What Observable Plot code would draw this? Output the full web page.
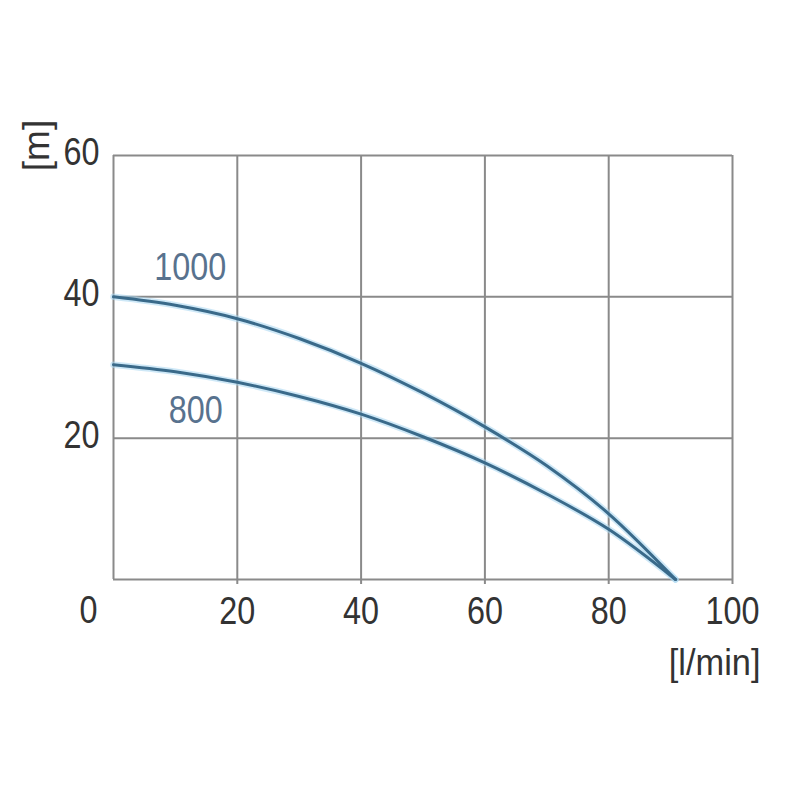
<!DOCTYPE html>
<html>
<head>
<meta charset="utf-8">
<script src="https://cdn.jsdelivr.net/npm/d3@7"></script>
<script src="https://cdn.jsdelivr.net/npm/@observablehq/plot@0.6"></script>
<style>
  html, body { margin: 0; padding: 0; background: #fff; }
</style>
</head>
<body>
<div id="chart"></div>
<script>
const flow = [0, 10, 20, 30, 40, 50, 60, 70, 80, 90.8];
const head1000 = [40, 38.8, 36.9, 34.1, 30.6, 26.4, 21.6, 16.1, 9.3, 0];
const head800 = [30.4, 29.4, 27.9, 25.9, 23.4, 20.2, 16.5, 12.1, 7.1, 0];
const xTicks = [20, 40, 60, 80, 100];
const yTicks = [20, 40, 60];
const gridX = [0, 20, 40, 60, 80, 100];
const gridY = [0, 20, 40, 60];
const curveNames = ["1000", "800"];
const labelPos = [[12.4, 44.1], [13.3, 23.9]];

const rows = [];
flow.forEach((f, i) => {
  rows.push({ series: "1000", q: f, h: head1000[i] });
  rows.push({ series: "800", q: f, h: head800[i] });
});
const labels = curveNames.map((n, i) => ({ name: n, q: labelPos[i][0], h: labelPos[i][1] }));

const font = "'Liberation Sans', Arial, sans-serif";
const FS = 39;

const chart = Plot.plot({
  width: 800,
  height: 800,
  marginLeft: 113,
  marginRight: 68,
  marginTop: 155,
  marginBottom: 221,
  style: { fontFamily: font, fontSize: FS + "px", color: "#333", background: "#fff" },
  x: { domain: [0, 100] },
  y: { domain: [0, 60] },
  marks: [
    Plot.ruleX(gridX, { stroke: "#8a8a8a", strokeWidth: 2, strokeOpacity: 1 }),
    Plot.ruleY(gridY, { stroke: "#8a8a8a", strokeWidth: 2, strokeOpacity: 1 }),
    Plot.lineY(rows, { x: "q", y: "h", z: "series", curve: "monotone-x", stroke: "#a6d5f0", strokeWidth: 6.5, strokeOpacity: 0.55 }),
    Plot.lineY(rows, { x: "q", y: "h", z: "series", curve: "monotone-x", stroke: "#3a6a8a", strokeWidth: 3 }),
    Plot.axisX(xTicks, { tickSize: 5, tickPadding: 12, stroke: "#8a8a8a", strokeWidth: 2, fontSize: FS, fill: "#333", fontFamily: font, label: null }),
    Plot.axisY(yTicks, { tickSize: 0, tickPadding: 14, fontSize: FS, fill: "#333", fontFamily: font, dy: -3, label: null }),
    Plot.text([0], { x: d => d, y: 0, text: d => String(d), dx: -25, dy: 31, fontSize: FS, fill: "#333", fontFamily: font }),
    Plot.text(labels, { x: "q", y: "h", text: "name", fontSize: FS, fill: "#58728e", fontFamily: font }),
    Plot.text(["[l/min]"], { x: 100, y: 0, text: d => d, dx: 28, dy: 84, textAnchor: "end", fontSize: 37, fill: "#333", fontFamily: font }),
    Plot.text(["[m]"], { x: 0, y: 60, text: d => d, dx: -76, dy: -10, rotate: -90, fontSize: 37, fill: "#333", fontFamily: font })
  ]
});

// condense glyphs horizontally (narrow typeface look) around each text's anchor
chart.querySelectorAll("text").forEach(t => {
  const content = t.textContent;
  const S = content === "[m]" ? 1 : content === "[l/min]" ? 0.93 : 0.83;
  if (S === 1) return;
  const x = t.getAttribute("x");
  if (x != null) t.setAttribute("x", (+x) / S);
  const tr = t.getAttribute("transform") || "";
  t.setAttribute("transform", (tr + ` scale(${S},1)`).trim());
});
document.getElementById("chart").appendChild(chart);
</script>
</body>
</html>
